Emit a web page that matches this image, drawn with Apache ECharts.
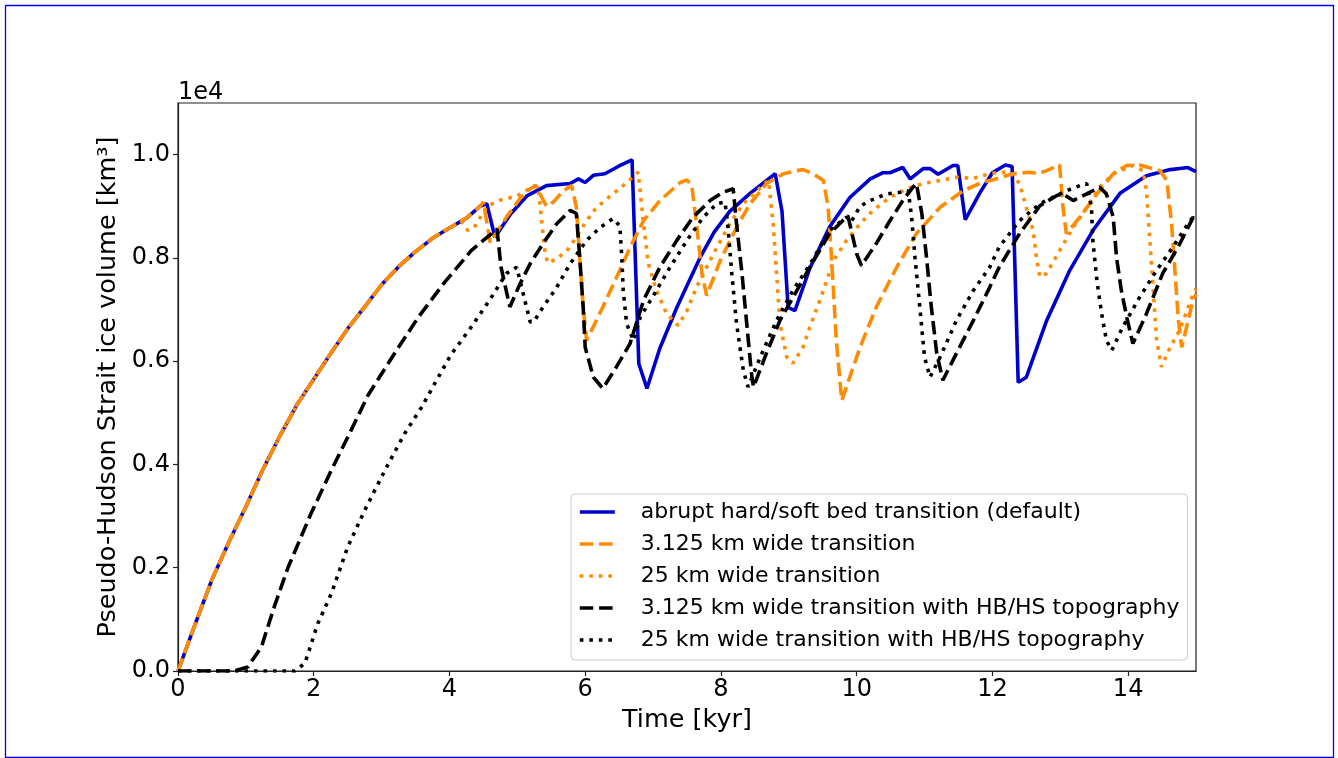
<!DOCTYPE html>
<html>
<head>
<meta charset="utf-8">
<script src="https://cdn.jsdelivr.net/npm/echarts@6/dist/echarts.min.js"></script>
<style>html,body{margin:0;padding:0;background:#fff;}#c{width:1338px;height:758px;}</style>
</head>
<body>
<div id="c"></div>
<script>
// Time [kyr], volume in units of 1e4 km^3
const seriesNames = [
  'abrupt hard/soft bed transition (default)',
  '3.125 km wide transition',
  '25 km wide transition',
  '3.125 km wide transition with HB/HS topography',
  '25 km wide transition with HB/HS topography'
];
const xTicks = [0, 2, 4, 6, 8, 10, 12, 14];
const yTicks = [0, 0.2, 0.4, 0.6, 0.8, 1.0];

const abrupt = [[0,0],[0.25,0.09],[0.5,0.177],[0.75,0.25],[1,0.318],[1.25,0.39],[1.5,0.455],[1.75,0.515],[2,0.565],[2.25,0.615],[2.5,0.663],[2.75,0.705],[3,0.748],[3.25,0.783],[3.5,0.812],[3.75,0.838],[4,0.858],[4.25,0.877],[4.45,0.9],[4.55,0.905],[4.67,0.84],[4.9,0.885],[5.14,0.92],[5.43,0.94],[5.78,0.944],[5.9,0.953],[6.0,0.946],[6.12,0.96],[6.29,0.963],[6.5,0.978],[6.69,0.99],[6.79,0.595],[6.91,0.547],[7.1,0.625],[7.35,0.704],[7.69,0.80],[7.9,0.85],[8.13,0.89],[8.43,0.925],[8.8,0.963],[8.9,0.89],[8.99,0.704],[9.09,0.698],[9.31,0.78],[9.6,0.86],[9.9,0.917],[10.2,0.953],[10.39,0.965],[10.49,0.965],[10.68,0.975],[10.79,0.953],[10.98,0.973],[11.08,0.973],[11.2,0.962],[11.42,0.979],[11.49,0.979],[11.6,0.874],[11.82,0.927],[12.0,0.965],[12.19,0.98],[12.29,0.977],[12.38,0.559],[12.5,0.569],[12.8,0.679],[13.14,0.776],[13.48,0.853],[13.88,0.925],[14.27,0.959],[14.62,0.971],[14.76,0.973],[14.88,0.975],[15,0.967]];

const wide3 = [[0,0],[0.25,0.09],[0.5,0.177],[0.75,0.25],[1,0.318],[1.25,0.39],[1.5,0.455],[1.75,0.515],[2,0.565],[2.25,0.615],[2.5,0.663],[2.75,0.705],[3,0.748],[3.25,0.783],[3.5,0.812],[3.75,0.838],[4,0.858],[4.25,0.877],[4.45,0.9],[4.5,0.908],[4.6,0.83],[4.84,0.879],[5.04,0.915],[5.19,0.934],[5.28,0.94],[5.36,0.917],[5.43,0.9],[5.53,0.908],[5.68,0.93],[5.8,0.94],[5.87,0.898],[5.92,0.80],[5.97,0.705],[6.02,0.64],[6.26,0.705],[6.51,0.776],[6.66,0.82],[6.86,0.872],[7.1,0.911],[7.4,0.946],[7.5,0.951],[7.57,0.94],[7.64,0.866],[7.72,0.77],[7.79,0.727],[7.99,0.795],[8.23,0.859],[8.43,0.905],[8.67,0.944],[8.92,0.963],[9.12,0.969],[9.21,0.971],[9.36,0.963],[9.51,0.95],[9.58,0.898],[9.63,0.80],[9.7,0.64],[9.78,0.524],[10.05,0.627],[10.29,0.705],[10.59,0.782],[10.88,0.847],[11.23,0.898],[11.57,0.93],[11.86,0.947],[12.0,0.951],[12.3,0.963],[12.55,0.966],[12.67,0.963],[12.8,0.969],[12.99,0.98],[13.04,0.898],[13.09,0.847],[13.29,0.879],[13.54,0.924],[13.78,0.963],[13.98,0.979],[14.17,0.98],[14.47,0.969],[14.57,0.95],[14.64,0.866],[14.71,0.737],[14.74,0.68],[14.79,0.627],[14.96,0.72],[15,0.73]];

const wide25 = [[0,0],[0.25,0.09],[0.5,0.177],[0.75,0.25],[1,0.318],[1.25,0.39],[1.5,0.455],[1.75,0.515],[2,0.565],[2.25,0.615],[2.5,0.663],[2.75,0.705],[3,0.748],[3.25,0.783],[3.5,0.812],[3.75,0.838],[4,0.858],[4.17,0.872],[4.27,0.853],[4.38,0.862],[4.55,0.9],[4.75,0.912],[5.0,0.92],[5.25,0.94],[5.31,0.937],[5.36,0.87],[5.41,0.808],[5.45,0.79],[5.58,0.798],[5.73,0.814],[5.87,0.84],[6.02,0.872],[6.17,0.898],[6.37,0.92],[6.56,0.94],[6.78,0.966],[6.86,0.866],[6.93,0.789],[7.05,0.737],[7.2,0.692],[7.37,0.669],[7.5,0.698],[7.64,0.743],[7.89,0.808],[8.13,0.866],[8.33,0.905],[8.53,0.93],[8.7,0.95],[8.77,0.866],[8.82,0.77],[8.87,0.673],[8.97,0.608],[9.06,0.596],[9.21,0.627],[9.31,0.666],[9.51,0.737],[9.66,0.795],[9.85,0.834],[10.05,0.866],[10.24,0.892],[10.49,0.917],[10.74,0.934],[10.98,0.944],[11.23,0.95],[11.47,0.956],[11.72,0.954],[11.96,0.963],[12.1,0.966],[12.26,0.966],[12.4,0.944],[12.5,0.898],[12.6,0.853],[12.65,0.80],[12.7,0.763],[12.8,0.77],[12.99,0.814],[13.19,0.859],[13.39,0.898],[13.58,0.937],[13.78,0.963],[14.07,0.979],[14.22,0.969],[14.27,0.93],[14.32,0.834],[14.37,0.737],[14.42,0.64],[14.49,0.589],[14.62,0.627],[14.76,0.66],[14.96,0.731],[15,0.74]];

const wide3Topo = [[0,0],[0.83,0],[1.03,0.008],[1.23,0.047],[1.42,0.125],[1.62,0.2],[1.96,0.305],[2.26,0.389],[2.55,0.466],[2.8,0.534],[3.19,0.615],[3.54,0.685],[3.93,0.753],[4.32,0.814],[4.7,0.856],[4.76,0.782],[4.89,0.705],[5.04,0.75],[5.19,0.789],[5.38,0.828],[5.58,0.866],[5.78,0.892],[5.87,0.886],[5.92,0.80],[5.97,0.705],[6.0,0.627],[6.12,0.569],[6.26,0.547],[6.46,0.589],[6.66,0.634],[6.86,0.718],[7.1,0.782],[7.35,0.834],[7.59,0.879],[7.84,0.911],[8.03,0.927],[8.18,0.934],[8.23,0.866],[8.31,0.77],[8.38,0.673],[8.45,0.576],[8.48,0.55],[8.67,0.615],[8.87,0.679],[9.12,0.737],[9.31,0.782],[9.6,0.847],[9.87,0.882],[10.0,0.808],[10.07,0.785],[10.29,0.828],[10.49,0.872],[10.68,0.911],[10.83,0.937],[10.88,0.944],[10.96,0.886],[11.03,0.80],[11.1,0.705],[11.18,0.615],[11.27,0.563],[11.47,0.615],[11.72,0.679],[11.96,0.743],[12.1,0.782],[12.4,0.847],[12.7,0.901],[12.95,0.921],[13.04,0.924],[13.19,0.911],[13.39,0.924],[13.58,0.937],[13.68,0.924],[13.78,0.879],[13.83,0.80],[13.9,0.737],[13.98,0.685],[14.07,0.634],[14.27,0.692],[14.51,0.77],[14.76,0.827],[14.96,0.879],[15,0.872]];

const wide25Topo = [[0,0],[1.72,0],[1.87,0.015],[2.06,0.092],[2.26,0.15],[2.5,0.24],[2.75,0.311],[3.05,0.389],[3.34,0.46],[3.59,0.511],[3.78,0.556],[4.02,0.612],[4.32,0.666],[4.6,0.72],[4.84,0.77],[4.99,0.782],[5.04,0.756],[5.11,0.718],[5.19,0.676],[5.24,0.676],[5.38,0.705],[5.58,0.743],[5.78,0.789],[6.02,0.834],[6.22,0.859],[6.41,0.876],[6.51,0.862],[6.54,0.80],[6.56,0.737],[6.61,0.673],[6.71,0.64],[6.81,0.685],[7.05,0.737],[7.25,0.782],[7.5,0.834],[7.74,0.879],[7.94,0.905],[8.06,0.908],[8.1,0.866],[8.16,0.77],[8.23,0.673],[8.33,0.582],[8.4,0.55],[8.58,0.608],[8.82,0.679],[9.06,0.737],[9.31,0.787],[9.6,0.853],[9.85,0.879],[9.92,0.87],[10.05,0.9],[10.2,0.911],[10.44,0.924],[10.64,0.927],[10.76,0.93],[10.81,0.879],[10.86,0.80],[10.93,0.705],[11.0,0.608],[11.08,0.569],[11.23,0.608],[11.47,0.679],[11.72,0.737],[11.96,0.782],[12.1,0.821],[12.4,0.872],[12.7,0.905],[13.09,0.93],[13.29,0.94],[13.39,0.944],[13.46,0.898],[13.48,0.834],[13.54,0.756],[13.61,0.692],[13.68,0.64],[13.76,0.621],[13.92,0.666],[14.17,0.724],[14.42,0.776],[14.66,0.821],[14.91,0.872],[15,0.884]];

const FONT = 'DejaVu Sans';
const LW = 3.6;
const DASH = [13.5, 5.8];
const DOT = [3.6, 5.9];

function mk(name, data, color, type) {
  return {
    name: name, type: 'line', data: data, symbol: 'none', showSymbol: false,
    lineStyle: { color: color, width: LW, type: type },
    itemStyle: { color: color },
    emphasis: { disabled: true }, silent: true
  };
}

const chart = echarts.init(document.getElementById('c'), null, { renderer: 'canvas' });
chart.setOption({
  animation: false,
  backgroundColor: '#fff',
  textStyle: { fontFamily: FONT },
  grid: { left: 178, right: 142, top: 103, bottom: 87, show: true, borderColor: '#222', borderWidth: 1.2, containLabel: false },
  graphic: [
    { type: 'rect', z: 100, shape: { x: 5.5, y: 5.5, width: 1328, height: 752 }, style: { fill: 'rgba(0,0,0,0)', stroke: '#0000ff', lineWidth: 1.3 }, silent: true },
    { type: 'text', x: 178, y: 93, style: { text: '1e4', font: '24px "DejaVu Sans"', fill: '#000', verticalAlign: 'middle', align: 'left' }, silent: true }
  ],
  legend: {
    show: true, orient: 'vertical', left: 571, top: 494,
    data: seriesNames,
    itemWidth: 35, itemHeight: 14, itemGap: 10,
    padding: [7, 8, 9, 7],
    backgroundColor: 'rgba(255,255,255,0.85)', borderColor: '#cccccc', borderWidth: 1, borderRadius: 4,
    selectedMode: false,
    itemStyle: { opacity: 0, color: 'rgba(0,0,0,0)', borderWidth: 0 },
    lineStyle: { width: LW },
    textStyle: { fontFamily: FONT, fontSize: 22, color: '#000', padding: [0, 0, 0, 21] }
  },
  xAxis: {
    type: 'value', min: 0, max: 15,
    name: 'Time [kyr]', nameLocation: 'middle', nameGap: 31,
    nameTextStyle: { fontFamily: FONT, fontSize: 25.5, color: '#000' },
    axisLine: { show: true, onZero: false, lineStyle: { color: '#222', width: 1.2 } },
    axisTick: { show: true, inside: false, length: 5, lineStyle: { color: '#222', width: 1.2 }, customValues: xTicks },
    axisLabel: { show: true, margin: 7, fontFamily: FONT, fontSize: 24, color: '#000', customValues: xTicks, formatter: function (v) { return String(v); } },
    splitLine: { show: false }
  },
  yAxis: {
    type: 'value', min: 0, max: 1.1,
    name: 'Pseudo-Hudson Strait ice volume [km³]', nameLocation: 'middle', nameGap: 45,
    nameTextStyle: { fontFamily: FONT, fontSize: 25.5, color: '#000' },
    axisLine: { show: true, onZero: false, lineStyle: { color: '#222', width: 1.2 } },
    axisTick: { show: true, inside: false, length: 5, lineStyle: { color: '#222', width: 1.2 }, customValues: yTicks },
    axisLabel: { show: true, margin: 8, fontFamily: FONT, fontSize: 24, color: '#000', customValues: yTicks, formatter: function (v) { return v.toFixed(1); } },
    splitLine: { show: false }
  },
  series: [
    mk(seriesNames[0], abrupt, '#0000cd', 'solid'),
    mk(seriesNames[1], wide3, '#ff8c00', DASH),
    mk(seriesNames[2], wide25, '#ff8c00', DOT),
    mk(seriesNames[3], wide3Topo, '#000000', DASH),
    mk(seriesNames[4], wide25Topo, '#000000', DOT)
  ]
});
</script>
</body>
</html>
